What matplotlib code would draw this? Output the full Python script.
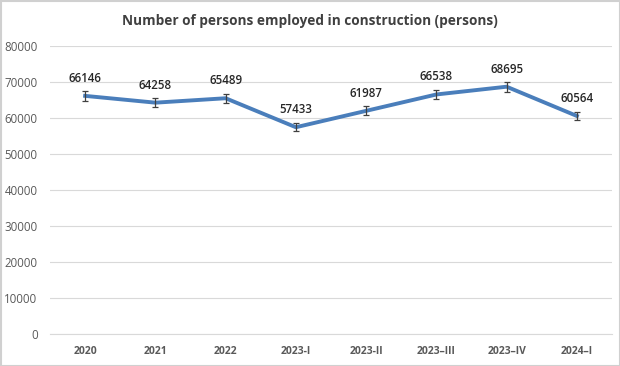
import matplotlib
matplotlib.use("Agg")
import matplotlib.pyplot as plt
from matplotlib.patches import Rectangle

categories = ["2020", "2021", "2022", "2023-I", "2023-II", "2023\u2013III", "2023\u2013IV", "2024\u2013I"]
values = [66146, 64258, 65489, 57433, 61987, 66538, 68695, 60564]
errors = [1300, 1300, 1300, 1150, 1250, 1300, 1350, 1200]
yticks = [0, 10000, 20000, 30000, 40000, 50000, 60000, 70000, 80000]

plt.rcParams['font.family'] = ['Open Sans', 'DejaVu Sans']

fig = plt.figure(figsize=(6.2, 3.66), dpi=100)
ax = fig.add_axes([50/620, 1-334/366, 562/620, 288/366])

x = list(range(len(categories)))
ax.plot(x, values, color="#4A7EBB", lw=2.8, solid_joinstyle="round", zorder=3)
ax.errorbar(x, values, yerr=errors, fmt="none", ecolor="#404040", elinewidth=0.9,
            capsize=2.5, capthick=0.9, zorder=4)
for xi, v in zip(x, values):
    ax.annotate(str(v), (xi, v), xytext=(0, 8), textcoords="offset points",
                ha="center", va="bottom", fontsize=8.3, color="#262626", fontweight="semibold")

ax.set_xlim(-0.5, len(categories) - 0.5)
ax.set_ylim(0, 80000)
ax.set_yticks(yticks)
ax.set_yticklabels([str(t) for t in yticks])
ax.set_xticks(x)
ax.set_xticklabels(categories, fontweight="bold")
ax.tick_params(axis="y", length=0, labelsize=8.3, labelcolor="#595959", pad=9)
ax.tick_params(axis="x", length=0, labelsize=7.5, labelcolor="#595959", pad=9)
ax.grid(axis="y", color="#D9D9D9", lw=0.8)
ax.set_axisbelow(True)
for s in ["top", "right", "left"]:
    ax.spines[s].set_visible(False)
ax.spines["bottom"].set_color("#D9D9D9")
ax.spines["bottom"].set_linewidth(0.8)

fig.text(0.5, 1-21/366, "Number of persons employed in construction (persons)",
         ha="center", va="center", fontsize=9.8, fontweight="bold", color="#404040")

fig.patches.append(Rectangle((0.5/620, 0.5/366), 1-1/620, 1-1/366, transform=fig.transFigure,
                             fill=False, edgecolor="#D0D0D0", lw=1.5))

fig.savefig("out.png", dpi=100)
